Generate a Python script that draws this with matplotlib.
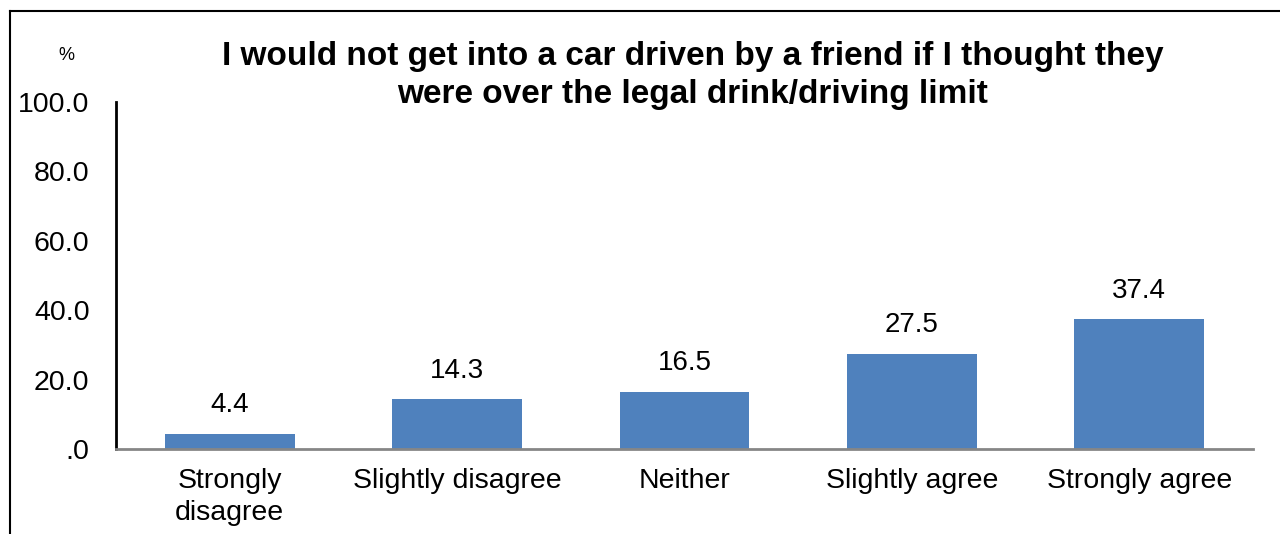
import matplotlib.pyplot as plt
from matplotlib.lines import Line2D

# survey responses (%)
categories = ["Strongly\ndisagree", "Slightly disagree", "Neither", "Slightly agree", "Strongly agree"]
values = [4.4, 14.3, 16.5, 27.5, 37.4]
yticks = [0, 20, 40, 60, 80, 100]
ytick_labels = [".0", "20.0", "40.0", "60.0", "80.0", "100.0"]
title = "I would not get into a car driven by a friend if I thought they\nwere over the legal drink/driving limit"

plt.rcParams["font.family"] = ["Liberation Sans", "DejaVu Sans"]

fig = plt.figure(figsize=(12.8, 5.34), dpi=100)
ax = fig.add_axes([116 / 1280, 1 - 449 / 534, (1253 - 116) / 1280, (449 - 102) / 534])

x = range(len(categories))
bars = ax.bar(x, values, width=0.57, color="#4F81BD")
for b, v in zip(bars, values):
    ax.annotate(f"{v:.1f}", (b.get_x() + b.get_width() / 2, v), xytext=(0, 11),
                textcoords="offset points", ha="center", va="bottom", fontsize=20)

ax.set_xlim(-0.5, len(categories) - 0.5)
ax.set_ylim(0, 100)
ax.set_yticks(yticks)
ax.set_yticklabels(ytick_labels, fontsize=20.5)
ax.set_xticks(list(x))
ax.set_xticklabels(categories, fontsize=20.5, linespacing=1.3)
ax.tick_params(axis="both", length=0)
ax.tick_params(axis="y", pad=19)
ax.tick_params(axis="x", pad=14)

for s in ["top", "right"]:
    ax.spines[s].set_visible(False)
ax.spines["left"].set_color("black")
ax.spines["left"].set_linewidth(2)
ax.spines["bottom"].set_color("#868686")
ax.spines["bottom"].set_linewidth(2)

fig.text(693 / 1280, 1 - 41 / 534, title, ha="center", va="top", fontsize=24,
         fontweight="bold", linespacing=1.3)
fig.text(66 / 1280, 1 - 55 / 534, "%", ha="center", va="center", fontsize=13)

# outer frame lines (top and left)
fig.add_artist(Line2D([10 / 1280, 1], [1 - 11 / 534, 1 - 11 / 534], color="black", lw=1.5))
fig.add_artist(Line2D([10 / 1280, 10 / 1280], [0, 1 - 11 / 534], color="black", lw=1.5))

fig.savefig("out.png", dpi=100)
